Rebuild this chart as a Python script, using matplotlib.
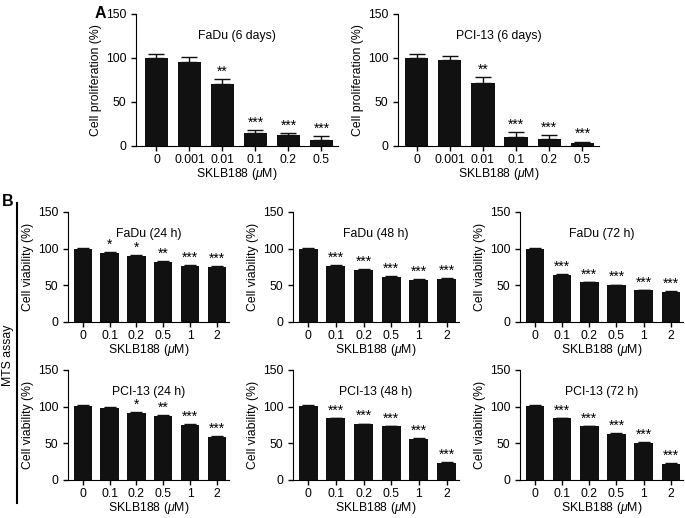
import numpy as np
import matplotlib
matplotlib.use("Agg")
import matplotlib.pyplot as plt

plt.rcParams['font.family'] = ['Liberation Sans', 'DejaVu Sans']
plt.rcParams['mathtext.fontset'] = 'custom'
plt.rcParams['mathtext.it'] = 'Liberation Sans:italic'
plt.rcParams['mathtext.rm'] = 'Liberation Sans'

# panel A data (6 days, cell proliferation)
dose_a = ['0', '0.001', '0.01', '0.1', '0.2', '0.5']
fadu_6d = [100, 96, 70, 15, 12, 7]
fadu_6d_err = [4, 5, 6, 3, 3, 4]
fadu_6d_sig = ['', '', '**', '***', '***', '***']
pci_6d = [100, 98, 72, 10, 8, 3]
pci_6d_err = [5, 4, 6, 6, 4, 2]
pci_6d_sig = ['', '', '**', '***', '***', '***']

# panel B data (MTS assay, cell viability)
dose_b = ['0', '0.1', '0.2', '0.5', '1', '2']
fadu_24 = [100, 94, 90, 82, 77, 75]
fadu_24_sig = ['', '*', '*', '**', '***', '***']
fadu_48 = [100, 77, 71, 62, 57, 59]
fadu_48_sig = ['', '***', '***', '***', '***', '***']
fadu_72 = [100, 64, 54, 50, 43, 41]
fadu_72_sig = ['', '***', '***', '***', '***', '***']
pci_24 = [101, 98, 92, 87, 75, 59]
pci_24_sig = ['', '', '*', '**', '***', '***']
pci_48 = [101, 84, 76, 73, 56, 23]
pci_48_sig = ['', '***', '***', '***', '***', '***']
pci_72 = [101, 84, 73, 63, 51, 22]
pci_72_sig = ['', '***', '***', '***', '***', '***']
err_b = [1, 1, 1, 1, 1, 1]

W, H = 685, 518
fig = plt.figure(figsize=(W / 100, H / 100), dpi=100)
FS = 8.8


def px_axes(x0, x1, ytop, ybot):
    return fig.add_axes([x0 / W, 1 - ybot / H, (x1 - x0) / W, (ybot - ytop) / H])


def panel(ax, labels, vals, errs, sig, title, ylabel, xlim, width, cap, ty):
    x = np.arange(len(vals))
    ax.bar(x, vals, width=width, color='#111111')
    ax.errorbar(x, vals, yerr=[np.zeros(len(errs)), errs], fmt='none',
                ecolor='#111111', elinewidth=1, capsize=cap, capthick=1)
    for xi, v, e, s in zip(x, vals, errs, sig):
        if s:
            ax.text(xi, v + e + 0.5, s, ha='center', va='bottom', fontsize=10)
    ax.set_ylim(0, 150)
    ax.set_yticks([0, 50, 100, 150])
    ax.set_xlim(*xlim)
    ax.set_xticks(x)
    ax.set_xticklabels(labels)
    ax.spines['top'].set_visible(False)
    ax.spines['right'].set_visible(False)
    ax.tick_params(labelsize=FS, length=3.5, width=1)
    ax.tick_params(axis='x', pad=2)
    ax.set_ylabel(ylabel, fontsize=FS, labelpad=3)
    ax.set_xlabel(r'SKLB188 ($\mathit{\mu}$M)', fontsize=FS, labelpad=0)
    ax.text(0.5, ty, title, transform=ax.transAxes, ha='center', va='center', fontsize=FS)


ax = px_axes(136, 338, 14, 146)
panel(ax, dose_a, fadu_6d, fadu_6d_err, fadu_6d_sig, 'FaDu (6 days)',
      'Cell proliferation (%)', (-0.62, 5.5), 0.7, 6, 0.83)
ax = px_axes(398, 599, 14, 146)
panel(ax, dose_a, pci_6d, pci_6d_err, pci_6d_sig, 'PCI-13 (6 days)',
      'Cell proliferation (%)', (-0.56, 5.5), 0.7, 6, 0.83)

cols = [(68, 229), (293, 459), (520, 683)]
rows = [(212, 322), (370, 480)]
b_sets = [
    [(fadu_24, fadu_24_sig, 'FaDu (24 h)'), (fadu_48, fadu_48_sig, 'FaDu (48 h)'),
     (fadu_72, fadu_72_sig, 'FaDu (72 h)')],
    [(pci_24, pci_24_sig, 'PCI-13 (24 h)'), (pci_48, pci_48_sig, 'PCI-13 (48 h)'),
     (pci_72, pci_72_sig, 'PCI-13 (72 h)')],
]
for r, (yt, yb) in enumerate(rows):
    for c, (x0, x1) in enumerate(cols):
        vals, sig, title = b_sets[r][c]
        ax = px_axes(x0, x1, yt, yb)
        panel(ax, dose_b, vals, err_b, sig, title, 'Cell viability (%)',
              (-0.55, 5.45), 0.68, 4.5, 0.8)

fig.text(95 / W, 1 - 14 / H, 'A', fontsize=11.5, fontweight='bold', ha='left', va='center')
fig.text(2 / W, 1 - 201 / H, 'B', fontsize=11.5, fontweight='bold', ha='left', va='center')
fig.text(8 / W, 1 - 355 / H, 'MTS assay', fontsize=FS, rotation=90, ha='center', va='center')
fig.add_artist(plt.Line2D([17 / W, 17 / W], [1 - 203 / H, 1 - 503 / H], color='black', lw=1.5))

fig.savefig('out.png', dpi=100)
